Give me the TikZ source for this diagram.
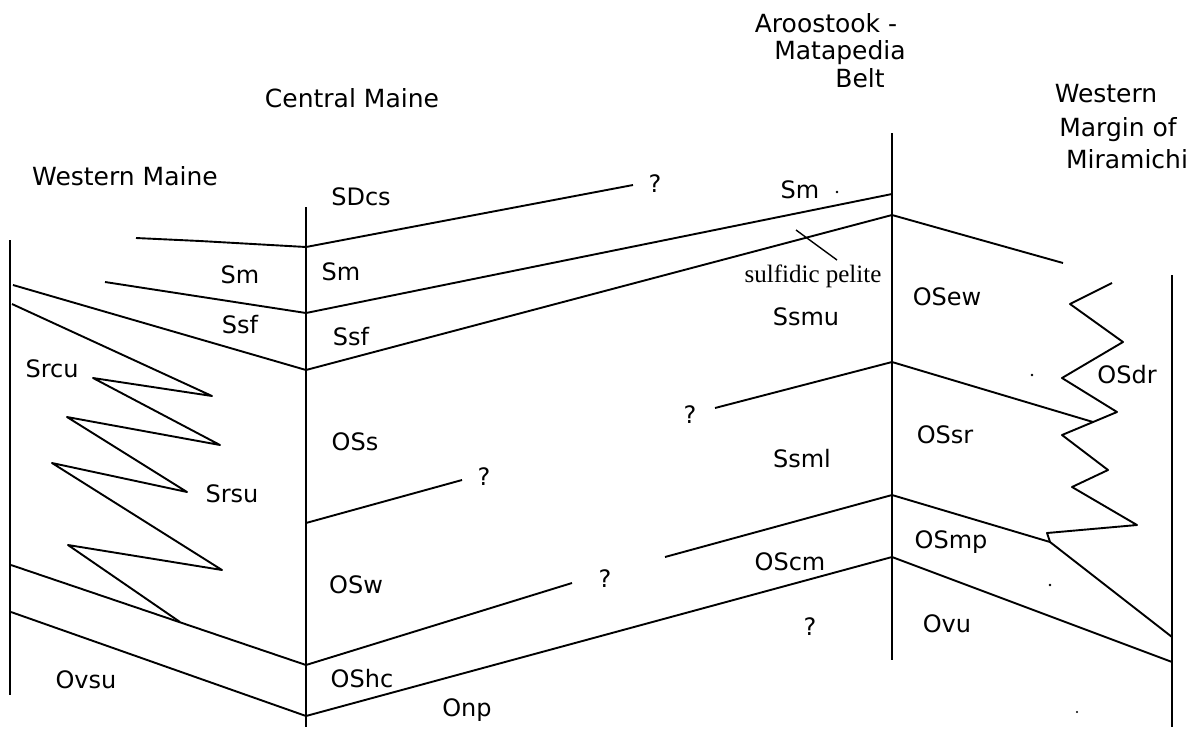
\documentclass[tikz,border=0pt]{standalone}
\usepackage{fontspec}
\setmainfont{DejaVu Sans}
\newfontfamily\pelitefont{Liberation Serif}
\begin{document}
\begin{tikzpicture}[x=1pt,y=-1pt,
    column/.style={line width=2.4pt},
    contact/.style={line width=1.9pt, line join=round},
    belt/.style={font=\fontsize{25}{29}\selectfont, anchor=base, inner sep=0pt},
    unit/.style={font=\fontsize{24}{28}\selectfont, anchor=base, inner sep=0pt},
    query/.style={font=\fontsize{24}{28}\selectfont, anchor=base, inner sep=0pt}]
    \useasboundingbox (0,0) rectangle (1204,729);

    % Columns
    \coordinate (wmT) at (10,240);   \coordinate (wmB) at (10,695);
    \coordinate (cmT) at (306,207);  \coordinate (cmB) at (306,727);
    \coordinate (amT) at (892,133);  \coordinate (amB) at (892,660);
    \coordinate (mrT) at (1172,275); \coordinate (mrB) at (1172,727);
    \draw[column] (wmT) -- (wmB);
    \draw[column] (cmT) -- (cmB);
    \draw[column] (amT) -- (amB);
    \draw[column] (mrT) -- (mrB);

    % Contacts on the columns
    \coordinate (cm1) at (306,247); \coordinate (cm2) at (306,313);
    \coordinate (cm3) at (306,370); \coordinate (cm4) at (306,523);
    \coordinate (cm5) at (306,665); \coordinate (cm6) at (306,716);
    \coordinate (am1) at (892,194); \coordinate (am2) at (892,215);
    \coordinate (am3) at (892,362); \coordinate (am4) at (892,495);
    \coordinate (am5) at (892,557);

    % Headings
    \node[belt] (wm) at (125,185) {Western Maine};
    \node[belt] (cm) at (352,107) {Central Maine};
    \node[belt] (am1t) at (826,32) {Aroostook -};
    \node[belt] (am2t) at (840,59) {Matapedia};
    \node[belt] (am3t) at (860,87) {Belt};
    \node[belt] (mr1t) at (1106,102) {Western};
    \node[belt] (mr2t) at (1118,136) {Margin of};
    \node[belt] (mr3t) at (1127,168) {Miramichi};

    % Western Maine
    \draw[contact] (136,238) -- (200,241) -- (cm1);
    \draw[contact] (105,282) -- (cm2);
    \draw[contact] (13,285) -- (cm3);
    \draw[contact] (12,304) -- (212,396) -- (93,378) -- (220,445) -- (67,417)
        -- (187,492) -- (52,463) -- (222,570) -- (68,545) -- (180,622);
    \draw[contact] (11,565) -- (cm5);
    \draw[contact] (11,612) -- (cm6);
    \node[unit] (wmSm) at (240,283) {Sm};
    \node[unit] (wmSsf) at (240,333) {Ssf};
    \node[unit] (srcu) at (52,377) {Srcu};
    \node[unit] (srsu) at (232,502) {Srsu};
    \node[unit] (ovsu) at (86,688) {Ovsu};

    % Central Maine
    \draw[contact] (cm1) -- (633,185);
    \draw[contact] (cm2) -- (am1);
    \draw[contact] (cm3) -- (am2);
    \draw[contact] (cm4) -- (462,480);
    \draw[contact] (cm5) -- (572,583);
    \draw[contact] (cm6) -- (am5);
    \node[unit] (sdcs) at (361,205) {SDcs};
    \node[unit] (cmSm) at (341,280) {Sm};
    \node[unit] (cmSsf) at (351,345) {Ssf};
    \node[unit] (oss) at (355,450) {OSs};
    \node[unit] (osw) at (356,593) {OSw};
    \node[unit] (oshc) at (362,687) {OShc};
    \node[unit] (onp) at (467,716) {Onp};
    \node[query] (q1) at (655,192) {?};
    \node[query] (q2) at (484,485) {?};
    \node[query] (q3) at (605,587) {?};

    % Aroostook - Matapedia Belt
    \draw[contact] (715,408) -- (am3);
    \draw[contact] (665,557) -- (am4);
    \draw[line width=1.4pt] (796,230) -- (837,260);
    \node[unit] (amSm) at (800,198) {Sm};
    \fill (837,192) circle (1.4);
    \node[anchor=base, inner sep=0pt, font=\pelitefont\fontsize{25}{29}\selectfont] (pel) at (813,282) {sulfidic pelite};
    \node[unit] (ssmu) at (806,325) {Ssmu};
    \node[unit] (ssml) at (802,467) {Ssml};
    \node[unit] (oscm) at (790,570) {OScm};
    \node[query] (q4) at (690,423) {?};
    \node[query] (q5) at (810,635) {?};

    % Western Margin of Miramichi
    \draw[contact] (am2) -- (1063,263);
    \draw[contact] (am3) -- (1093,422);
    \draw[contact] (am4) -- (1050,542) -- (1172,637);
    \draw[contact] (am5) -- (1172,662);
    \draw[contact] (1112,283) -- (1070,304) -- (1123,342) -- (1062,378) -- (1117,412)
        -- (1062,435) -- (1108,470) -- (1072,487) -- (1137,525) -- (1047,533) -- (1050,542);
    \node[unit] (osew) at (947,305) {OSew};
    \node[unit] (osdr) at (1127,383) {OSdr};
    \node[unit] (ossr) at (945,443) {OSsr};
    \node[unit] (osmp) at (951,548) {OSmp};
    \node[unit] (ovu) at (947,632) {Ovu};
    \fill (1032,375) circle (1.3);
    \fill (1050,585) circle (1.3);
    \fill (1077,712) circle (1.1);
\end{tikzpicture}
\end{document}
